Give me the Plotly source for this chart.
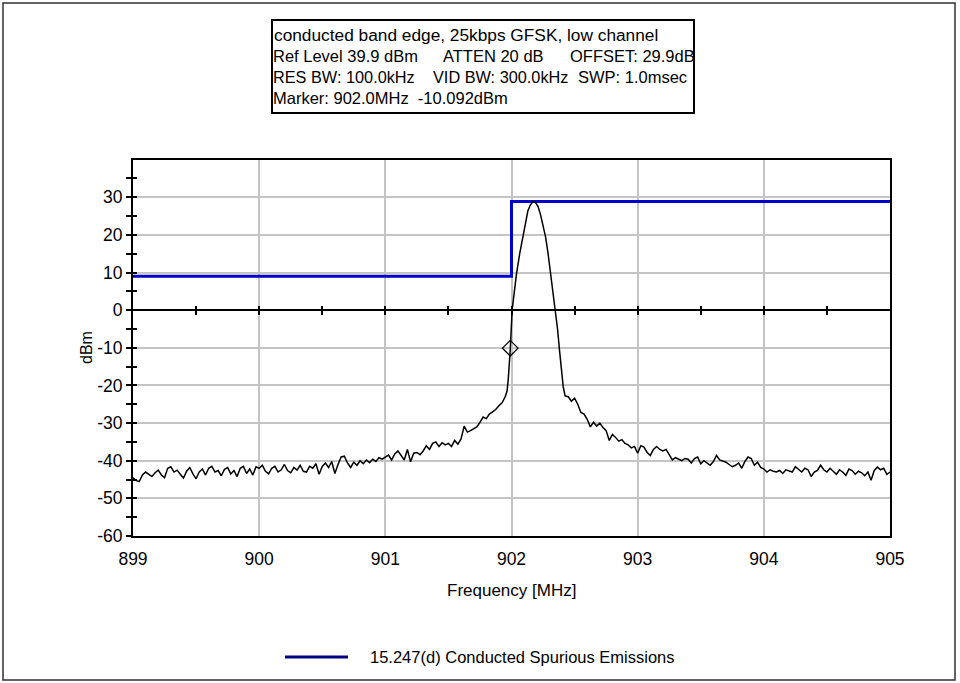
import numpy as np
import plotly.graph_objects as go

# ---------------- data ----------------
# spectrum trace, 899.000 .. 901.950 MHz, 25 kHz steps
dbm_899 = [-44.5, -45.3, -45.5, -43.8, -43.0, -43.5, -44.2, -43.2, -42.5, -43.8,
           -44.5, -42.0, -41.6, -43.0, -42.5, -43.6, -44.6, -42.8, -41.8, -43.5,
           -44.8, -43.0, -42.2, -43.8, -42.0, -41.5, -43.0, -42.6, -44.0, -42.3,
           -41.8, -43.5, -42.6, -44.2, -42.0, -41.5, -43.4, -42.2, -43.8, -41.6]
dbm_900 = [-42.0, -41.2, -42.8, -43.5, -42.0, -41.5, -43.0, -42.4, -41.0, -42.6,
           -43.2, -41.8, -42.5, -41.2, -42.8, -43.0, -41.5, -42.0, -40.8, -43.6,
           -41.5, -40.6, -41.8, -40.2, -43.4, -41.0, -39.0, -38.8, -40.6, -41.8,
           -40.4, -41.2, -40.0, -40.8, -39.8, -40.5, -39.6, -40.2, -39.2, -39.6]
dbm_901 = [-39.0, -38.5, -39.8, -38.2, -37.4, -38.6, -39.8, -37.0, -40.3, -38.0,
           -37.8, -38.4, -37.4, -36.0, -37.0, -35.4, -35.0, -36.2, -35.2, -35.8,
           -35.4, -36.2, -34.6, -35.6, -34.2, -30.8, -32.4, -32.0, -31.4, -31.0,
           -29.8, -28.4, -28.8, -27.6, -27.0, -26.4, -25.4, -24.6, -23.0]
# carrier peak region (irregular frequency points)
peak_freq = [901.965, 901.975, 901.99, 902.005, 902.02, 902.04, 902.065, 902.09,
             902.11, 902.13, 902.15, 902.17, 902.19, 902.21, 902.23, 902.25,
             902.27, 902.29, 902.31, 902.33, 902.35, 902.365, 902.38, 902.395,
             902.41, 902.425]
peak_dbm = [-21.5, -18.0, -10.5, 0.0, 4.5, 9.8, 15.0, 19.5,
            23.0, 26.4, 28.0, 28.8, 28.6, 27.6, 25.4, 22.5,
            19.5, 15.0, 9.8, 4.5, 0.0, -5.0, -10.5, -15.5,
            -20.4, -22.8]
# 902.450 .. 905.000 MHz, 25 kHz steps
dbm_upper = [-23.0, -24.2, -23.4, -25.0, -27.2, -27.6, -29.0, -31.0, -29.8, -30.8,
             -30.0, -31.2, -32.0, -34.6, -33.0, -33.8, -34.8, -34.4, -35.4, -35.8,
             -36.6, -36.2, -38.0, -36.0, -36.4, -37.8, -38.6, -37.0, -36.2, -37.0,
             -37.4, -37.0, -38.6, -39.8, -39.2, -39.6, -40.0, -39.4, -39.6, -40.6,
             -39.4, -39.0, -40.8, -40.0, -40.6, -41.2, -40.2, -38.6, -39.8, -40.0,
             -40.4, -41.0, -41.6, -41.2, -40.6, -42.0, -40.2, -39.0, -39.4, -41.2,
             -40.4, -41.8, -42.2, -43.0, -42.4, -42.8, -43.0, -42.6, -43.4, -42.4,
             -42.8, -43.0, -41.6, -42.2, -43.0, -42.0, -42.4, -44.2, -43.0, -42.6,
             -41.2, -42.4, -43.0, -42.0, -42.8, -43.6, -42.4, -43.0, -43.9, -42.2,
             -42.6, -43.6, -42.8, -43.2, -44.0, -43.0, -45.2, -42.6, -41.7, -42.4,
             -42.0, -43.6, -43.0]

lower_dbm = dbm_899 + dbm_900 + dbm_901
lower_freq = 899.0 + 0.025 * np.arange(len(lower_dbm))
upper_freq = 902.45 + 0.025 * np.arange(len(dbm_upper))
spectrum_freq = np.concatenate([lower_freq, peak_freq, upper_freq])
spectrum_dbm = lower_dbm + peak_dbm + dbm_upper

# limit line (15.247(d))
limit_freq = [899.0, 902.0, 902.0, 905.0]
limit_dbm = [9.0, 9.0, 28.9, 28.9]

# marker
marker_freq = [901.99]
marker_dbm = [-10.092]

x_ticks = [899, 900, 901, 902, 903, 904, 905]
y_ticks = [-60, -50, -40, -30, -20, -10, 0, 10, 20, 30]
y_labels = ["-60", "-50", "-40", "-30", "-20", "-10", "0", "10", "20", "30"]
y_minor = list(range(-60, 40, 5))
zero_ticks = [899.5 + 0.5 * i for i in range(11)]

info_lines = [
    [("conducted band edge, 25kbps GFSK, low channel", 274, 17.3)],
    [("Ref Level 39.9 dBm", 273, 16.5), ("ATTEN 20 dB", 443, 16.5),
     ("OFFSET: 29.9dB", 570, 16.5)],
    [("RES BW: 100.0kHz", 273, 16.3), ("VID BW: 300.0kHz", 433, 16.3),
     ("SWP: 1.0msec", 578, 16.5)],
    [("Marker: 902.0MHz&nbsp; -10.092dBm", 273, 16.5)],
]
info_y = [35, 56, 77, 98]
legend_label = "15.247(d) Conducted Spurious Emissions"

# ---------------- layout geometry ----------------
W, H = 960, 683
L, R, T, B = 133, 890, 160, 536
FONT = "Liberation Sans, Arial, sans-serif"


def px(xp):
    return (xp - L) / (R - L)


def py(yp):
    return (B - yp) / (B - T)


fig = go.Figure()

fig.add_trace(go.Scatter(x=limit_freq, y=limit_dbm, mode="lines",
                         line=dict(color="#0000c8", width=3),
                         name=legend_label, showlegend=False, hoverinfo="skip"))
fig.add_trace(go.Scatter(x=spectrum_freq, y=spectrum_dbm, mode="lines",
                         line=dict(color="black", width=1.5),
                         showlegend=False))
fig.add_trace(go.Scatter(x=marker_freq, y=marker_dbm, mode="markers",
                         marker=dict(symbol="diamond-open", size=12,
                                     color="black", line=dict(width=1.3)),
                         showlegend=False))
# helper (empty) traces so the overlay axes exist
for xa, ya in [("x2", "y"), ("x3", "y"), ("x", "y2")]:
    fig.add_trace(go.Scatter(x=[], y=[], xaxis=xa, yaxis=ya, showlegend=False))

fig.update_layout(
    width=W, height=H,
    margin=dict(l=L, r=W - R, t=T, b=H - B, pad=0),
    paper_bgcolor="white", plot_bgcolor="white",
    font=dict(family=FONT, size=17.5, color="black"),
    showlegend=False,
    xaxis=dict(range=[899, 905], tickvals=x_ticks, ticktext=[str(v) for v in x_ticks],
               showgrid=True, gridcolor="#c4c4c4", gridwidth=1.5,
               showline=True, linecolor="black", linewidth=2, mirror=True,
               ticks="", zeroline=False, ticklabelstandoff=6),
    yaxis=dict(range=[-60, 39.9], tickvals=y_ticks, ticktext=y_labels,
               showgrid=True, gridcolor="#c4c4c4", gridwidth=1.5,
               showline=True, linecolor="black", linewidth=2, mirror=True,
               ticks="outside", ticklen=5, tickwidth=1.5, tickcolor="black",
               minor=dict(tickvals=y_minor, ticks="outside", ticklen=5,
                          tickwidth=1.5, tickcolor="black", showgrid=False),
               zeroline=False),
    yaxis2=dict(range=[-60, 39.9], overlaying="y", anchor="x", side="left",
                tickvals=y_minor, ticks="inside", ticklen=4, tickwidth=1.5,
                tickcolor="black", showticklabels=False, showgrid=False,
                showline=False, zeroline=False),
    xaxis2=dict(range=[899, 905], overlaying="x", anchor="free",
                position=(0 - (-60)) / (39.9 - (-60)),
                tickvals=zero_ticks, ticks="outside", ticklen=4, tickwidth=1.5,
                tickcolor="black", showticklabels=False, showgrid=False,
                showline=True, linecolor="black", linewidth=2, zeroline=False),
    xaxis3=dict(range=[899, 905], overlaying="x", anchor="free",
                position=(0 - (-60)) / (39.9 - (-60)),
                tickvals=zero_ticks, ticks="inside", ticklen=4, tickwidth=1.5,
                tickcolor="black", showticklabels=False, showgrid=False,
                showline=False, zeroline=False),
)

shapes = [
    # outer frame
    dict(type="rect", xref="paper", yref="paper",
         x0=px(3), x1=px(955), y0=py(680), y1=py(3),
         line=dict(color="#303030", width=1.5)),
    # info box
    dict(type="rect", xref="paper", yref="paper",
         x0=px(272), x1=px(694), y0=py(113), y1=py(20),
         line=dict(color="black", width=2), fillcolor="white", layer="below"),
    # legend line
    dict(type="line", xref="paper", yref="paper",
         x0=px(285), x1=px(348), y0=py(657), y1=py(657),
         line=dict(color="#000080", width=3)),
]
fig.update_layout(shapes=shapes)

annotations = []
for line, yv in zip(info_lines, info_y):
    for txt, xv, fs in line:
        annotations.append(dict(text=txt, xref="paper", yref="paper",
                                x=px(xv - 2), y=py(yv), xanchor="left", yanchor="middle",
                                showarrow=False, font=dict(size=fs)))
annotations.append(dict(text="Frequency [MHz]", xref="paper", yref="paper",
                        x=px(511), y=py(590), xanchor="center", yanchor="middle",
                        showarrow=False, font=dict(size=17)))
annotations.append(dict(text="dBm", xref="paper", yref="paper",
                        x=px(86), y=py(348), xanchor="center", yanchor="middle",
                        textangle=-90, showarrow=False, font=dict(size=16)))
annotations.append(dict(text=legend_label, xref="paper", yref="paper",
                        x=px(368), y=py(657), xanchor="left", yanchor="middle",
                        showarrow=False, font=dict(size=16.5)))
fig.update_layout(annotations=annotations)

fig.write_html("out.html", config={"displayModeBar": False},
               post_script="document.body.style.margin='0px';document.body.style.overflow='hidden';")
